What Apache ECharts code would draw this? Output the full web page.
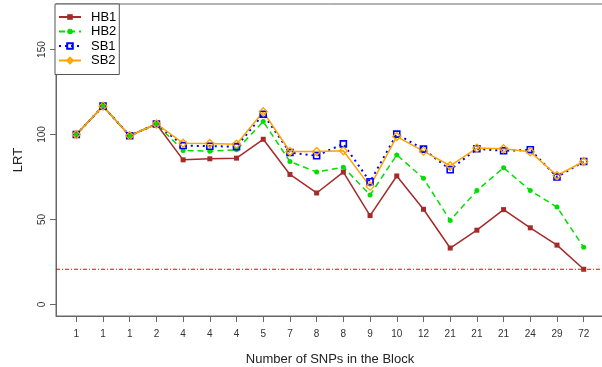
<!DOCTYPE html>
<html>
<head>
<meta charset="utf-8">
<script src="https://cdn.jsdelivr.net/npm/echarts@6/dist/echarts.min.js"></script>
<style>
  html, body { margin: 0; padding: 0; background: #fff; }
  #chart { width: 602px; height: 367px; }
</style>
</head>
<body>
<div id="chart"></div>
<script>
// Block sizes (number of SNPs) shown on the x axis, one per block
const snpCounts = ['1', '1', '1', '2', '4', '4', '4', '5', '7', '8', '8', '9', '10', '12', '21', '21', '21', '24', '29', '72'];

// Likelihood-ratio test statistic per block for each method
const hb1 = [100, 116.7, 99.3, 106.2, 85.1, 85.7, 86.1, 97.2, 76.5, 65.6, 77.9, 52.3, 75.6, 56.0, 33.2, 43.7, 55.8, 45.1, 34.9, 20.7];
const hb2 = [100, 116.7, 99.3, 106.2, 90.6, 90.2, 91.0, 107.6, 84.1, 77.9, 80.8, 64.4, 88.0, 74.2, 49.4, 67.0, 80.4, 67.0, 57.3, 33.6];
const sb1 = [100, 116.7, 99.3, 106.2, 93.5, 93.1, 92.9, 111.9, 89.4, 87.5, 94.5, 72.2, 100.2, 91.4, 79.3, 91.6, 90.4, 91.0, 75.0, 84.1];
const sb2 = [100, 116.7, 99.3, 106.2, 94.9, 94.7, 94.3, 113.4, 90.0, 90.0, 90.4, 69.5, 98.8, 90.2, 81.6, 92.0, 91.6, 89.8, 75.9, 84.1];

// Significance threshold
const threshold = 20.7;

// Y tick values
const yTicks = [0, 50, 100, 150];

// Plot range of the x axis (blocks sit at 1..20)
const xMin = 0.24, xMax = 20.76;

const xPositions = snpCounts.map((_, i) => i + 1);
const toPairs = arr => arr.map((v, i) => [i + 1, v]);

const font = '"Liberation Sans", Arial, sans-serif';

const chart = echarts.init(document.getElementById('chart'), null, { renderer: 'canvas' });

chart.setOption({
  animation: false,
  backgroundColor: '#fff',
  textStyle: { fontFamily: font },
  grid: {
    left: 56, top: 4, width: 548, height: 312,
    outerBoundsMode: 'none',
    containLabel: false,
    show: true, borderColor: '#666', borderWidth: 1, backgroundColor: 'transparent'
  },
  legend: {
    orient: 'vertical',
    left: 55, top: 4,
    padding: [6, 3, 7, 3],
    itemWidth: 22, itemHeight: 7, itemGap: 0.5,
    backgroundColor: '#fff',
    borderColor: '#555', borderWidth: 1,
    textStyle: { fontSize: 13, lineHeight: 14, color: '#000', fontFamily: font, padding: [0, 0, 0, 5] },
    data: ['HB1', 'HB2', 'SB1', 'SB2']
  },
  xAxis: {
    type: 'value',
    min: xMin, max: xMax,
    name: 'Number of SNPs in the Block',
    nameLocation: 'middle', nameGap: 37,
    nameTextStyle: { fontSize: 13, color: '#222', fontFamily: font },
    splitLine: { show: false },
    axisLine: { show: true, onZero: false, lineStyle: { color: '#666' } },
    axisTick: { show: true, length: 6, lineStyle: { color: '#666' }, customValues: xPositions },
    axisLabel: {
      fontSize: 10, color: '#333', margin: 13, fontFamily: font,
      customValues: xPositions,
      formatter: v => snpCounts[Math.round(v) - 1] || ''
    }
  },
  yAxis: {
    type: 'value',
    min: -6.8, max: 176.8,
    name: 'LRT',
    nameLocation: 'middle', nameGap: 31, nameRotate: 90,
    nameTextStyle: { fontSize: 13, color: '#222', fontFamily: font },
    splitLine: { show: false },
    axisLine: { show: true, lineStyle: { color: '#666' } },
    axisTick: { show: true, length: 6, lineStyle: { color: '#666' }, customValues: yTicks },
    axisLabel: {
      fontSize: 10, color: '#333', margin: 9, rotate: 90, fontFamily: font,
      customValues: yTicks
    }
  },
  series: [
    {
      // horizontal threshold line across the whole plot
      name: 'threshold', type: 'line',
      data: [[xMin, threshold], [xMax, threshold]],
      symbol: 'none', silent: true, z: 1,
      lineStyle: { color: '#FF0000', width: 1.1, type: [4, 2, 1, 2] }
    },
    {
      name: 'HB1', type: 'line', data: toPairs(hb1),
      symbol: 'rect', symbolSize: 5,
      lineStyle: { color: '#A52A2A', width: 1.5 },
      itemStyle: { color: '#A52A2A' }
    },
    {
      name: 'HB2', type: 'line', data: toPairs(hb2),
      symbol: 'circle', symbolSize: 5,
      lineStyle: { color: '#00E000', width: 1.5, type: [6, 4] },
      itemStyle: { color: '#00E000' }
    },
    {
      name: 'SB1', type: 'line', data: toPairs(sb1),
      symbol: 'rect', symbolSize: 6,
      lineStyle: { color: '#0000FF', width: 2, type: [2, 4] },
      itemStyle: { color: 'rgba(0,0,0,0)', borderColor: '#0000FF', borderWidth: 1.6 }
    },
    {
      name: 'SB2', type: 'line', data: toPairs(sb2),
      symbol: 'diamond', symbolSize: 8,
      lineStyle: { color: '#FFA500', width: 1.5 },
      itemStyle: { color: 'rgba(0,0,0,0)', borderColor: '#FFA500', borderWidth: 1.3 }
    }
  ]
});
</script>
</body>
</html>
